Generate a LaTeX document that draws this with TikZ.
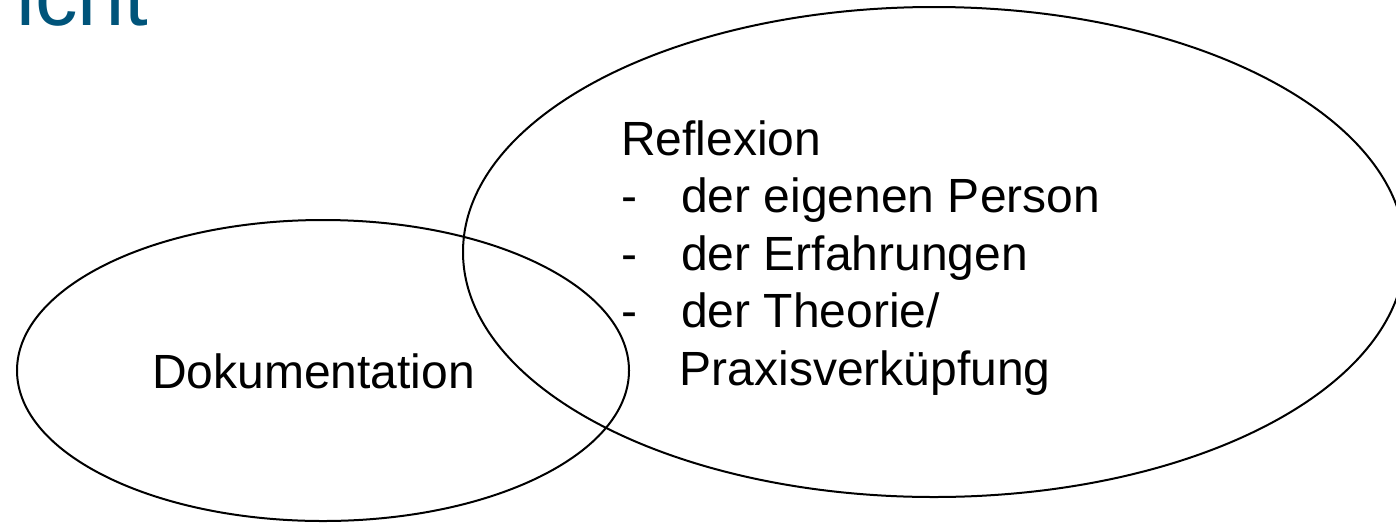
\documentclass[tikz,border=0pt]{standalone}
\usepackage{fontspec}
\setmainfont{Liberation Sans}
\usetikzlibrary{shapes.geometric}
\definecolor{titelblau}{RGB}{0,84,122}

\begin{document}
\begin{tikzpicture}[x=1pt, y=-1pt,
        venn/.style={ellipse, draw, line width=2pt, inner sep=0pt},
        txt/.style={inner sep=0pt, anchor=base west, font=\fontsize{48}{57.5}\selectfont}]
    \useasboundingbox (0,0) rectangle (1396,523);
    % Title, cut off at the top edge
    \node[inner sep=0pt, anchor=base west, text=titelblau, font=\fontsize{85}{85}\selectfont] (titel) at (16,25) {icht};

    % Ellipses
    \node[venn, minimum width=612pt, minimum height=301pt] (doku) at (323,370.5) {};
    \node[venn, minimum width=942pt, minimum height=490pt] (refl) at (934,252) {};

    % Labels
    \node[txt] (dokutext) at (152,388) {Dokumentation};
    \node[txt] (refltext) at (621,155) {Reflexion};
    \foreach \punkt [count=\i] in {der eigenen Person, der Erfahrungen, der Theorie/} {
        \node[txt] (strich\i) at (621,155+57.5*\i) {-};
        \node[txt] (punkt\i) at (681,155+57.5*\i) {\punkt};
    }
    \node[txt] (praxis) at (679.5,385) {Praxisverküpfung};
\end{tikzpicture}
\end{document}
